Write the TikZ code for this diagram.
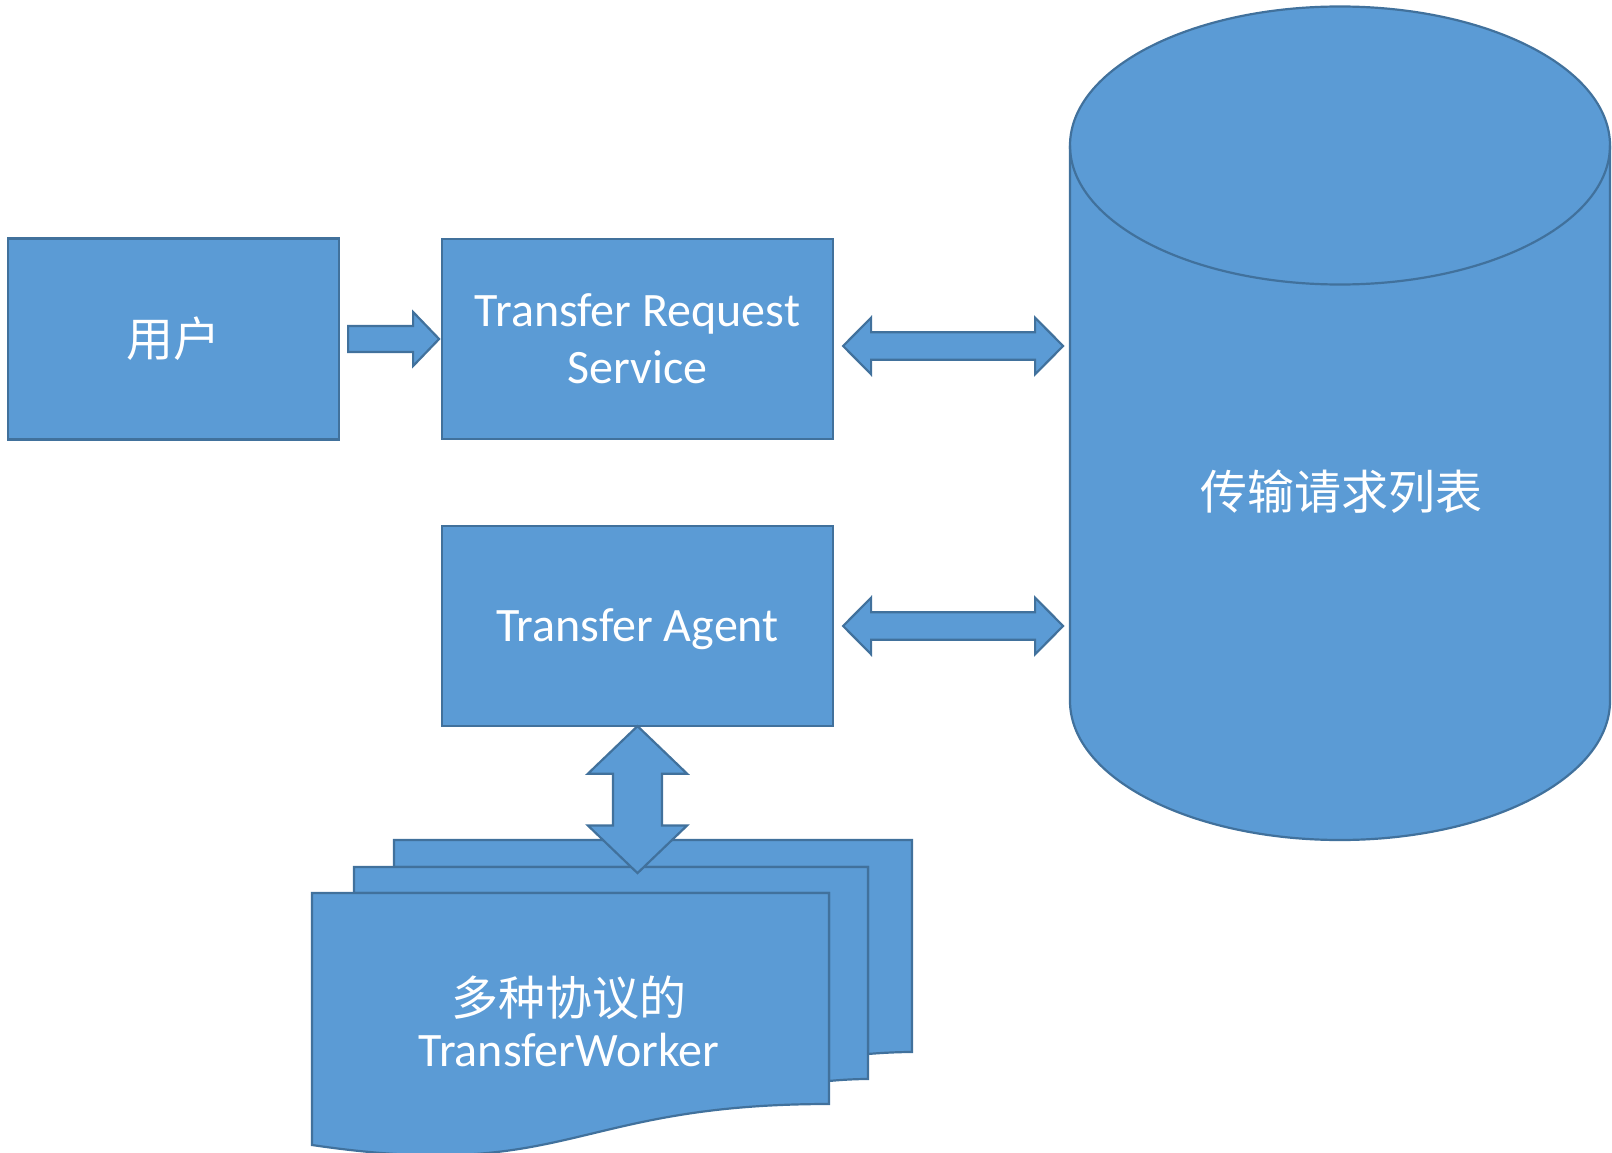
\documentclass[tikz,border=0pt]{standalone}
\usepackage{fontspec}
\setmainfont{Carlito}
\newfontfamily\cjk{Noto Sans CJK SC}
\usetikzlibrary{calc}
\definecolor{fillblue}{HTML}{5B9BD5}
\definecolor{edgeblue}{HTML}{41719C}
\begin{document}
\begin{tikzpicture}[x=1pt,y=-1pt,
  shapebox/.style={draw=edgeblue,fill=fillblue,line width=2.2pt},
  boxnode/.style={shapebox,rectangle,minimum width=391pt,minimum height=200pt,inner sep=0pt,text=white,font=\fontsize{48}{57}\selectfont,align=center},
  lbl/.style={text=white,inner sep=0pt,align=center},
  pics/hdbl/.style n args={4}{code={
    \path[shapebox] (0,0) -- (#2,-#3) -- (#2,-#4) -- (#1-#2,-#4) -- (#1-#2,-#3) -- (#1,0)
      -- (#1-#2,#3) -- (#1-#2,#4) -- (#2,#4) -- (#2,#3) -- cycle;}},
  pics/vdbl/.style n args={4}{code={
    \path[shapebox] (0,0) -- (-#3,#2) -- (-#4,#2) -- (-#4,#1-#2) -- (-#3,#1-#2) -- (0,#1)
      -- (#3,#1-#2) -- (#4,#1-#2) -- (#4,#2) -- (#3,#2) -- cycle;}},
  pics/hsgl/.style n args={4}{code={
    \path[shapebox] (0,-#4) -- (#1-#2,-#4) -- (#1-#2,-#3) -- (#1,0) -- (#1-#2,#3) -- (#1-#2,#4) -- (0,#4) -- cycle;}},
  ]
\useasboundingbox (0,0) rectangle (1612,1153);

% boxes
\node[boxnode,minimum width=331pt,minimum height=201pt] (user) at (173.5,339) {\cjk\fontsize{47}{57}\selectfont 用户};
\node[boxnode] (trs) at (637.5,339) {\raisebox{1.5pt}{Transfer Request}\\\raisebox{1.5pt}{Service}};
\node[boxnode] (agent) at (637.5,626) {\raisebox{-3pt}[\height][\depth]{Transfer Agent}};

% cylinder
\path[shapebox] (1070,145.5) -- (1070,701) arc[start angle=180,end angle=0,x radius=270,y radius=139]
  -- (1610,145.5) arc[start angle=0,end angle=-180,x radius=270,y radius=139] -- cycle;
\draw[edgeblue,line width=2.2pt] (1070,145.5) arc[start angle=180,end angle=0,x radius=270,y radius=139];
\node[lbl,font=\cjk\fontsize{47}{57}\selectfont] (db) at (1341,492) {传输请求列表};

% stacked documents
\path[shapebox] (394,867) -- (394,840) -- (912,840) -- (912,1052) .. controls (890,1052) and (868,1054) .. (868,1054) -- (868,867) -- cycle;
\path[shapebox] (354,893) -- (354,867) -- (868,867) -- (868,1079) .. controls (848,1079) and (829,1081) .. (829,1081) -- (829,893) -- cycle;
\path[shapebox] (312,1145) .. controls (570,1183) and (570,1104) .. (829,1104) -- (829,893) -- (312,893) -- cycle;
\node[lbl,font=\fontsize{48}{51}\selectfont] (workers) at (569,1021) {{\cjk\fontsize{47}{51}\selectfont 多种协议的}\\TransferWorker};

% block arrows
\pic at ($(user.east)+(8,0)$) {hsgl={91}{26}{27}{13}};
\pic at ($(trs.east)+(9,7)$) {hdbl={220}{28}{28.3}{13.8}};
\pic at ($(agent.east)+(9,0)$) {hdbl={220}{28}{28.3}{13.8}};
\pic at ($(agent.south)+(0,-1)$) {vdbl={147}{47.7}{49.7}{24.5}};
\end{tikzpicture}
\end{document}
